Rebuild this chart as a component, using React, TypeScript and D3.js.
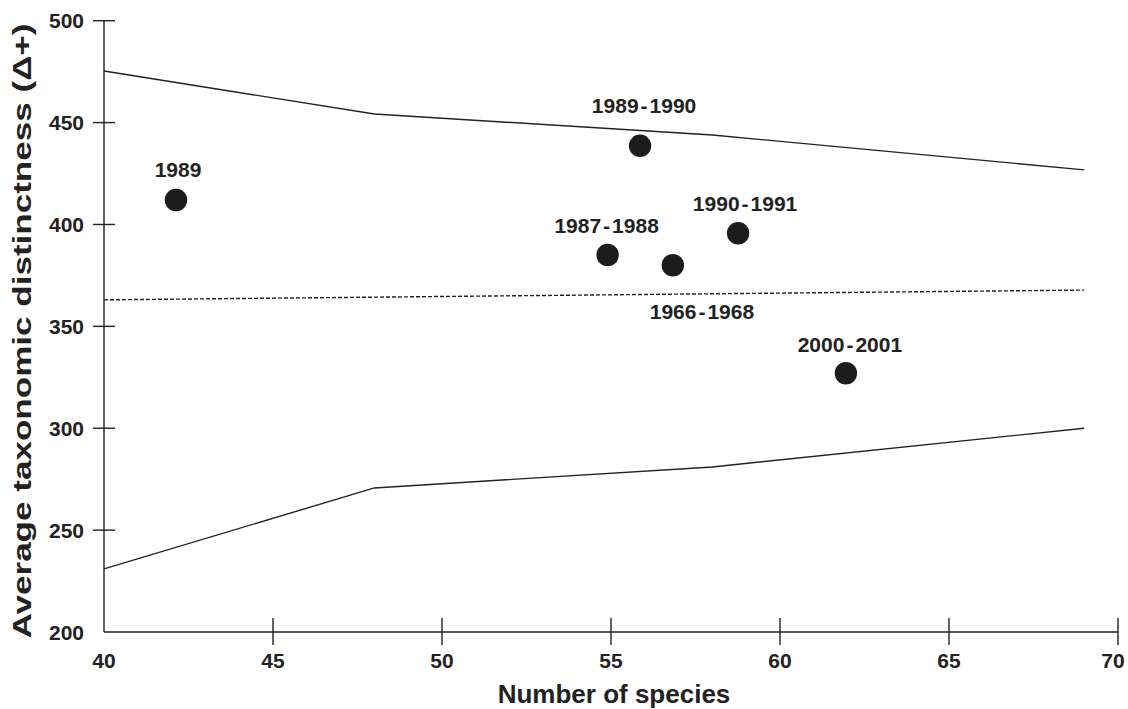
import { useEffect, useRef } from "react";
import * as d3 from "d3";

const WIDTH = 1128;
const HEIGHT = 709;

// envelope lines (x = number of species, y = delta+)
const upperX = [40, 48, 58, 69];
const upperY = [475.3, 454.2, 443.9, 426.8];
const lowerX = [40, 48, 58, 69];
const lowerY = [231, 270.7, 281, 300];
const meanX = [40, 69];
const meanY = [363, 367.8];

// sampled periods
const periods = ["1989", "1989-1990", "1987-1988", "", "1990-1991", "2000-2001"];
const species = [42.13, 55.86, 54.9, 56.83, 58.76, 61.95];
const delta = [412, 438.6, 385, 380, 395.7, 327];
// label offsets in pixels (dx, dy) from the point
const labelDx = [2, 4, -1, 0, 7, 4];
const labelDy = [-23, -33, -22, 0, -22, -21];

const meanLabel = "1966-1968";
const meanLabelAt = [57.69, 353.6];

const xTicks = [40, 45, 50, 55, 60, 65, 70];
const yTicks = [200, 250, 300, 350, 400, 450, 500];

const INK = "#222";
const FONT = "'Liberation Sans', Arial, sans-serif";

// "1989-1990" -> year, hyphen with a little air around it, year
function yearLabel(sel: d3.Selection<SVGTextElement, any, any, any>, s: string) {
  const [a, b] = s.split("-");
  sel.append("tspan").text(a);
  sel.append("tspan").attr("dx", 2).text("-");
  sel.append("tspan").attr("dx", 2).text(b);
}

export default function App() {
  const svgRef = useRef<SVGSVGElement>(null);

  useEffect(() => {
    const svg = d3.select(svgRef.current);
    svg.selectAll("*").remove();

    const x = d3.scaleLinear().domain([40, 70]).range([104, 1118]);
    const y = d3.scaleLinear().domain([200, 500]).range([632, 20.7]);

    const line = d3
      .line<[number, number]>()
      .x((d) => x(d[0]))
      .y((d) => y(d[1]));

    // axes
    svg
      .append("line")
      .attr("x1", x(40)).attr("x2", x(70))
      .attr("y1", y(200)).attr("y2", y(200))
      .attr("stroke", INK).attr("stroke-width", 1.4);
    svg
      .append("line")
      .attr("x1", x(40)).attr("x2", x(40))
      .attr("y1", y(200)).attr("y2", y(500))
      .attr("stroke", INK).attr("stroke-width", 1.4);

    const xt = svg.append("g").selectAll("g").data(xTicks).join("g");
    xt.filter((d) => d !== 40)
      .append("line")
      .attr("x1", (d) => x(d)).attr("x2", (d) => x(d))
      .attr("y1", y(200) - 14).attr("y2", y(200) + 13)
      .attr("stroke", INK).attr("stroke-width", 1.4);
    xt.append("text")
      // last label is pulled in a little so it stays on the page
      .attr("x", (d) => Math.min(x(d), WIDTH - 15))
      .attr("y", 668)
      .attr("text-anchor", "middle")
      .attr("font-family", FONT)
      .attr("font-weight", "bold")
      .attr("font-size", 21)
      .attr("fill", INK)
      .text((d) => d);

    const yt = svg.append("g").selectAll("g").data(yTicks).join("g");
    yt.filter((d) => d !== 200)
      .append("line")
      .attr("x1", x(40) - 11).attr("x2", x(40) + 11)
      .attr("y1", (d) => y(d)).attr("y2", (d) => y(d))
      .attr("stroke", INK).attr("stroke-width", 1.4);
    yt.append("text")
      .attr("x", 84)
      .attr("y", (d) => y(d))
      .attr("dy", "0.36em")
      .attr("text-anchor", "end")
      .attr("font-family", FONT)
      .attr("font-weight", "bold")
      .attr("font-size", 21)
      .attr("fill", INK)
      .text((d) => d);

    // axis titles
    svg
      .append("text")
      .attr("x", 614)
      .attr("y", 703)
      .attr("text-anchor", "middle")
      .attr("font-family", FONT)
      .attr("font-weight", "bold")
      .attr("font-size", 26)
      .attr("fill", INK)
      .text("Number of species");
    svg
      .append("text")
      .attr("transform", `translate(31,331) rotate(-90)`)
      .attr("text-anchor", "middle")
      .attr("font-family", FONT)
      .attr("font-weight", "bold")
      .attr("font-size", 25)
      .attr("fill", INK)
      .attr("textLength", 615)
      .attr("lengthAdjust", "spacingAndGlyphs")
      .text("Average taxonomic distinctness (\u0394+)");

    // envelope + mean
    const series = [
      { xs: upperX, ys: upperY, dash: null },
      { xs: lowerX, ys: lowerY, dash: null },
      { xs: meanX, ys: meanY, dash: "4,2" },
    ];
    series.forEach((s) => {
      svg
        .append("path")
        .attr("d", line(s.xs.map((v, i) => [v, s.ys[i]] as [number, number])))
        .attr("fill", "none")
        .attr("stroke", INK)
        .attr("stroke-width", 1.4)
        .attr("stroke-dasharray", s.dash);
    });

    // points
    const pts = periods.map((p, i) => ({ p, sx: species[i], dv: delta[i], i }));
    svg
      .append("g")
      .selectAll("circle")
      .data(pts)
      .join("circle")
      .attr("cx", (d) => x(d.sx))
      .attr("cy", (d) => y(d.dv))
      .attr("r", 11.2)
      .attr("fill", "#1c1c1c");

    const labels = svg
      .append("g")
      .attr("font-family", FONT)
      .attr("font-weight", "bold")
      .attr("font-size", 21)
      .attr("fill", INK)
      .attr("text-anchor", "middle");

    pts
      .filter((d) => d.p)
      .forEach((d) => {
        const t = labels
          .append("text")
          .attr("x", x(d.sx) + labelDx[d.i])
          .attr("y", y(d.dv) + labelDy[d.i]);
        if (d.p.includes("-")) yearLabel(t, d.p);
        else t.text(d.p);
      });

    const ml = labels
      .append("text")
      .attr("x", x(meanLabelAt[0]))
      .attr("y", y(meanLabelAt[1]));
    yearLabel(ml, meanLabel);
  }, []);

  return (
    <svg
      ref={svgRef}
      width={WIDTH}
      height={HEIGHT}
      style={{ position: "absolute", left: 0, top: 0, background: "#fff" }}
    />
  );
}
